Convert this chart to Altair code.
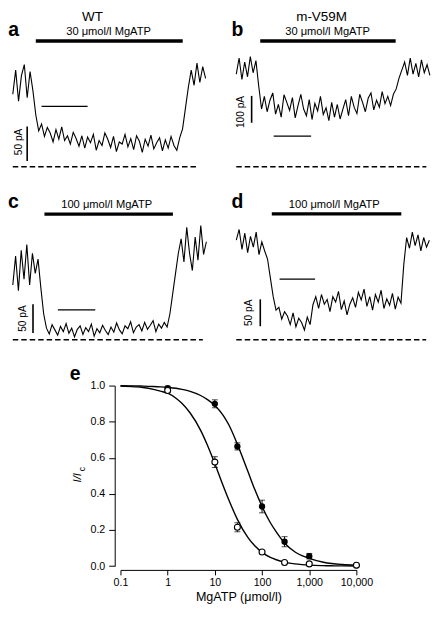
import altair as alt
import pandas as pd

FONT = "Liberation Sans"

# ---------------- trace data (current in pA, uniform sampling) ----------------
a_dt = 0.625
a_current = [105, 140, 95, 132, 148, 100, 138, 110,
             75, 52,
             62, 44, 57, 49, 36, 54, 40, 58, 38, 45, 33, 50, 41, 30, 45,
             27, 43, 35, 47, 24, 38, 31, 49, 40, 28, 44, 22, 36, 33, 47, 29, 41,
             25, 45, 37, 21, 40, 30, 46, 26, 35, 42, 23, 39, 27, 44, 31, 24, 42,
             55, 85, 115, 140,
             118, 150, 122, 145, 128]

b_dt = 0.75
b_current = [345, 405, 325, 390, 335, 410, 350, 395,
             300, 215,
             262, 205, 248, 275, 196, 232, 185, 268, 240, 210, 258, 182, 228,
             270, 215, 190, 250, 176, 236, 208, 262, 195, 220, 172, 240, 185,
             232, 178, 215, 250, 190, 262, 222, 198, 270, 240, 205, 255, 275,
             212, 248, 222, 280, 235, 262,
             228, 270,
             290, 330, 360,
             390, 340, 405, 345, 385, 335, 398, 350, 380, 340]

c_dt = 0.75
c_current = [95, 145, 85, 155, 105, 165, 95, 150, 115, 140,
             90, 45, 20,
             10, 26, 17, 8, 23, 14, 28, 11, 20, 5,
             18, 24, 9, 21, 14, 27, 6, 19, 12, 25,
             16, 9, 22, 13, 29, 17, 10, 24, 19, 31,
             12, 22, 26, 15, 30, 18, 25, 33, 14, 27,
             20, 30,
             22, 45, 80, 115, 150,
             175, 135, 195, 150, 120, 178, 138, 198, 148, 170]

d_dt = 0.8
d_current = [185, 205, 168, 198, 162, 192, 172, 200, 158, 182, 165,
             150, 115, 80, 55,
             60, 38, 52, 44, 28, 50, 24, 40, 32, 18, 42, 28,
             65, 80,
             58, 84, 66, 75, 52, 80, 70, 90, 56, 72, 46, 66, 78, 60, 88,
             74, 94, 62, 80, 55, 84, 70, 92, 58, 76, 64, 86, 57, 79, 68,
             140, 190,
             170, 200, 175, 195, 165, 190, 172, 185]

# ---------------- concentration-response data (panel e) ----------------
conc = [1, 10, 30, 100, 300, 1000, 10000]
wt_mean = [0.973, 0.576, 0.215, 0.078, 0.020, 0.012, 0.005]
wt_sem = [0.010, 0.030, 0.025, 0.008, 0.005, 0.004, 0.003]
mut_mean = [0.986, 0.899, 0.663, 0.330, 0.135, 0.055, 0.005]
mut_sem = [0.010, 0.022, 0.020, 0.035, 0.028, 0.015, 0.003]

fit_conc = [0.1, 0.2, 0.3, 0.5, 0.7, 1, 1.5, 2, 3, 5, 7, 10, 15, 20, 30, 50,
            70, 100, 150, 200, 300, 500, 700, 1000, 2000, 3000, 5000, 10000]
wt_fit = [0.997, 0.993, 0.989, 0.979, 0.969, 0.958, 0.930, 0.902, 0.848,
          0.752, 0.668, 0.567, 0.445, 0.363, 0.259, 0.159, 0.112, 0.076,
          0.048, 0.035, 0.022, 0.012, 0.008, 0.005, 0.0023, 0.0014, 0.0008,
          0.0003]
mut_fit = [0.999, 0.998, 0.997, 0.995, 0.993, 0.990, 0.985, 0.979, 0.968,
           0.945, 0.922, 0.890, 0.835, 0.780, 0.675, 0.525, 0.425, 0.330,
           0.240, 0.190, 0.128, 0.078, 0.058, 0.043, 0.021, 0.014, 0.009,
           0.005]

x_ticks = [0.1, 1, 10, 100, 1000, 10000]
x_tick_labels = ["0.1", "1", "10", "100", "1,000", "10,000"]
y_ticks = [0.0, 0.2, 0.4, 0.6, 0.8, 1.0]

# ---------------- panel annotations (data units: s and pA) ----------------
panels = {
    "a": dict(current=a_current, dt=a_dt, letter=("a", -1.0, 190),
              genotype=("WT", 17.3, 211), drug=("30 μmol/l MgATP", 20.8, 191),
              drug_bar=(5.0, 36.9, 182), time_bar=(6.25, 16.25, 87.5),
              pa_bar=(3.125, 8.3, 58.3), pa_label=("50 pA", 1.25, 36),
              zero=(0.0, 40.2)),
    "b": dict(current=b_current, dt=b_dt, letter=("b", -1.28, 486),
              genotype=("m-V59M", 22.8, 543), drug=("30 μmol/l MgATP", 24.4, 491),
              drug_bar=(6.4, 42.6, 468), time_bar=(10.0, 20.0, 114),
              pa_bar=(4.1, 164, 264), pa_label=("100 pA", 1.28, 204),
              zero=(0.0, 50.8)),
    "c": dict(current=c_current, dt=c_dt, letter=("c", -1.25, 228),
              genotype=None, drug=("100 μmol/l MgATP", 25.1, 229),
              drug_bar=(8.46, 42.8, 218), time_bar=(12.05, 22.05, 51.7),
              pa_bar=(5.4, 11.7, 61.7), pa_label=("50 pA", 2.82, 36.7),
              zero=(0.0, 50.8)),
    "d": dict(current=d_current, dt=d_dt, letter=("d", -1.35, 244.6),
              genotype=None, drug=("100 μmol/l MgATP", 27.6, 245.5),
              drug_bar=(10.0, 46.5, 234), time_bar=(12.2, 22.2, 112.5),
              pa_bar=(6.76, 25, 75), pa_label=("50 pA", 3.51, 50),
              zero=(0.0, 53.5)),
}

# ---------------- layout (figure pixels, then scaled to the page) ----------
REF_W, REF_H = 441, 622
CW, CH = 425, 600
SX, SY = CW / REF_W, CH / REF_H
TRACE_H = 355                     # figure height used by panels a-d
# calibration: figure pixel of (t=0, I=0) and px per s / per pA
layout = {
    "a": dict(sx=4.8, sy=0.72, x0=5, y0=164),
    "b": dict(sx=3.9, sy=0.28, x0=238, y0=164),
    "c": dict(sx=3.9, sy=0.60, x0=5, y0=344),
    "d": dict(sx=3.7, sy=0.56, x0=238, y0=344),
}


def trace_panel(key):
    p, lay = panels[key], layout[key]
    xs = alt.Scale(domain=[-lay["x0"] / lay["sx"], (REF_W - lay["x0"]) / lay["sx"]],
                   nice=False, zero=False)
    ys = alt.Scale(domain=[(lay["y0"] - TRACE_H) / lay["sy"], lay["y0"] / lay["sy"]],
                   nice=False, zero=False)

    def X(f):
        return alt.X(f, type="quantitative", scale=xs, axis=None)

    def Y(f):
        return alt.Y(f, type="quantitative", scale=ys, axis=None)

    tr = pd.DataFrame({"t": [i * p["dt"] for i in range(len(p["current"]))],
                       "I": p["current"]})
    layers = []
    layers.append(alt.Chart(tr).mark_line(color="black", strokeWidth=1.1)
                  .encode(x=X("t"), y=Y("I")))
    z = pd.DataFrame({"t1": [p["zero"][0]], "t2": [p["zero"][1]], "I": [0]})
    layers.append(alt.Chart(z).mark_rule(color="black", strokeWidth=1.5,
                                         strokeDash=[5.5, 3])
                  .encode(x=X("t1"), x2=alt.X2("t2"), y=Y("I")))
    db = pd.DataFrame({"t1": [p["drug_bar"][0]], "t2": [p["drug_bar"][1]],
                       "I": [p["drug_bar"][2]]})
    layers.append(alt.Chart(db).mark_rule(color="black", strokeWidth=3.4)
                  .encode(x=X("t1"), x2=alt.X2("t2"), y=Y("I")))
    tb = pd.DataFrame({"t1": [p["time_bar"][0]], "t2": [p["time_bar"][1]],
                       "I": [p["time_bar"][2]]})
    layers.append(alt.Chart(tb).mark_rule(color="black", strokeWidth=1.3)
                  .encode(x=X("t1"), x2=alt.X2("t2"), y=Y("I")))
    pb = pd.DataFrame({"t": [p["pa_bar"][0]], "I1": [p["pa_bar"][1]],
                       "I2": [p["pa_bar"][2]]})
    layers.append(alt.Chart(pb).mark_rule(color="black", strokeWidth=1.6)
                  .encode(x=X("t"), y=Y("I1"), y2=alt.Y2("I2")))

    def text_layer(spec, **mk):
        df = pd.DataFrame({"label": [spec[0]], "t": [spec[1]], "I": [spec[2]]})
        return (alt.Chart(df).mark_text(font=FONT, color="black", **mk)
                .encode(x=X("t"), y=Y("I"), text="label:N"))

    layers.append(text_layer(p["letter"], fontSize=19.5, fontWeight="bold",
                             align="left", baseline="alphabetic"))
    if p["genotype"]:
        layers.append(text_layer(p["genotype"], fontSize=13.5, align="center",
                                 baseline="alphabetic"))
    layers.append(text_layer(p["drug"], fontSize=11.2, align="center",
                             baseline="alphabetic"))
    layers.append(text_layer(p["pa_label"], fontSize=10.2, align="center",
                             baseline="middle", angle=270))
    return alt.layer(*layers)


traces = alt.layer(
    trace_panel("a"), trace_panel("b"), trace_panel("c"), trace_panel("d")
).resolve_scale(x="independent", y="independent").properties(
    width=CW, height=TRACE_H * SY)

# ---------------- panel e ----------------
E_LEFT, E_TOP, E_W, E_H = 116, 391, 246, 188   # plot area in figure pixels

label_expr = " : ".join(
    [f"datum.value == {v} ? '{l}'" for v, l in zip(x_ticks, x_tick_labels)]
) + " : datum.label"

xs_e = alt.Scale(type="log", domain=[0.1, 10000], nice=False)
ys_e = alt.Scale(domain=[0, 1], nice=False, zero=False)
x_axis = alt.Axis(values=x_ticks, labelExpr=label_expr, offset=4 * SY,
                  tickSize=5, grid=False, title="MgATP (μmol/l)",
                  titleFontSize=12.6, titleFontWeight="normal", titlePadding=3,
                  labelFontSize=10.7, labelPadding=3, labelColor="black",
                  titleColor="black", tickColor="black", domainColor="black",
                  labelFont=FONT, titleFont=FONT, labelFlush=False,
                  labelOverlap=False)
y_axis = alt.Axis(values=y_ticks, format=".1f", offset=6 * SX, tickSize=6,
                  grid=False, title=None, labelFontSize=10.7, labelPadding=4,
                  labelColor="black", tickColor="black", domainColor="black",
                  labelFont=FONT)


def EX(f):
    return alt.X(f, type="quantitative", scale=xs_e, axis=x_axis)


def EY(f):
    return alt.Y(f, type="quantitative", scale=ys_e, axis=y_axis)


fits = pd.DataFrame({"conc": fit_conc * 2, "v": wt_fit + mut_fit,
                     "group": ["WT"] * len(fit_conc) + ["m-V59M"] * len(fit_conc)})
pts = pd.DataFrame({
    "conc": conc * 2,
    "v": wt_mean + mut_mean,
    "lo": [m - s for m, s in zip(wt_mean, wt_sem)] + [m - s for m, s in zip(mut_mean, mut_sem)],
    "hi": [m + s for m, s in zip(wt_mean, wt_sem)] + [m + s for m, s in zip(mut_mean, mut_sem)],
    "group": ["WT"] * len(conc) + ["m-V59M"] * len(conc),
})

fit_layer = alt.Chart(fits).mark_line(color="black", strokeWidth=1.4,
                                      interpolate="monotone").encode(
    x=EX("conc"), y=EY("v"), detail="group:N")
err_rule = alt.Chart(pts).mark_rule(color="black", strokeWidth=1).encode(
    x=EX("conc"), y=EY("lo"), y2=alt.Y2("hi"))
cap_lo = alt.Chart(pts).mark_tick(color="black", orient="horizontal", size=6,
                                  thickness=1).encode(x=EX("conc"), y=EY("lo"))
cap_hi = alt.Chart(pts).mark_tick(color="black", orient="horizontal", size=6,
                                  thickness=1).encode(x=EX("conc"), y=EY("hi"))
filled = alt.Chart(pts).transform_filter("datum.group == 'm-V59M'").mark_point(
    shape="circle", filled=True, color="black", size=40, opacity=1).encode(
    x=EX("conc"), y=EY("v"))
opened = alt.Chart(pts).transform_filter("datum.group == 'WT'").mark_point(
    shape="circle", filled=True, fill="white", stroke="black", strokeWidth=1.1,
    size=36, opacity=1).encode(x=EX("conc"), y=EY("v"))

# letter "e" and the y label I/I_c, placed relative to the plot area
E_LETTER = (63, 385)
YLAB = (72, 487)
YSUB = (76, 478)


def rel(pt):
    return (pt[0] - E_LEFT) * SX, (pt[1] - E_TOP) * SY


one = pd.DataFrame({"k": [0]})
ex, ey = rel(E_LETTER)
e_letter = alt.Chart(one).mark_text(text="e", font=FONT, fontSize=19.5,
                                    fontWeight="bold", align="left",
                                    baseline="alphabetic", color="black").encode(
    x=alt.value(ex), y=alt.value(ey))
lx, ly = rel(YLAB)
ylab = alt.Chart(one).mark_text(text="I/I", font=FONT, fontSize=11.5,
                                fontStyle="italic", angle=270, align="center",
                                baseline="middle", color="black").encode(
    x=alt.value(lx), y=alt.value(ly))
sx_, sy_ = rel(YSUB)
ylab_sub = alt.Chart(one).mark_text(text="c", font=FONT, fontSize=8.5,
                                    angle=270, align="center",
                                    baseline="middle", color="black").encode(
    x=alt.value(sx_), y=alt.value(sy_))

panel_e = alt.layer(fit_layer, err_rule, cap_lo, cap_hi, filled, opened,
                    e_letter, ylab, ylab_sub).properties(
    width=E_W * SX, height=E_H * SY)

# spacer so the plot area starts at E_LEFT (the "e" letter is the leftmost mark)
spacer_w = E_LEFT * SX + ex
spacer = alt.Chart(one).mark_point(opacity=0, size=0).encode(
    x=alt.X("k:Q", axis=None, scale=alt.Scale(domain=[-1, 1])),
    y=alt.Y("k:Q", axis=None, scale=alt.Scale(domain=[-1, 1]))
).properties(width=spacer_w, height=E_H * SY)

row3 = alt.hconcat(spacer, panel_e, spacing=0)

# gap: plot top minus (letter baseline offset + its text ascent) minus traces
letter_top = ey - round(0.8 * 19.5)
gap = E_TOP * SY + letter_top - TRACE_H * SY

chart = alt.vconcat(traces, row3, spacing=gap).properties(
    padding=0).configure(font=FONT).configure_view(stroke=None)

chart.save("out.html", embed_options={"renderer": "svg", "actions": False})
